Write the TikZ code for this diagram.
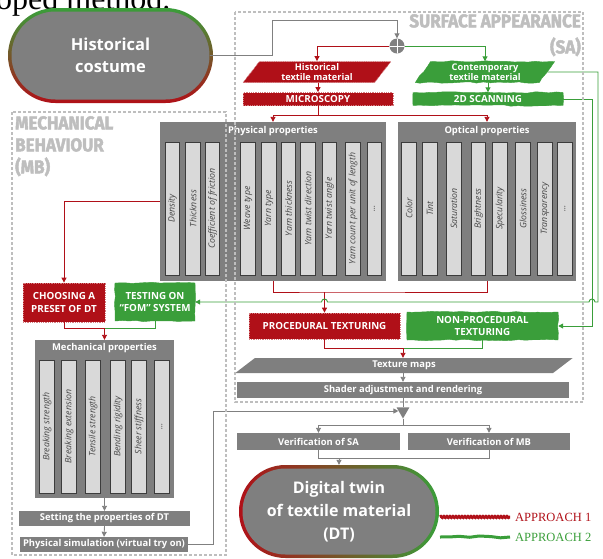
\documentclass[tikz,border=0pt]{standalone}
\usepackage{fontspec}
\setmainfont{Open Sans}
\newfontfamily\titulofont{Fira Sans}[BoldFeatures={FakeBold=2.5}]
\newfontfamily\seriffont{Liberation Serif}
\usepackage{xcolor}
\usetikzlibrary{arrows.meta,shapes.misc,shapes.geometric,decorations.pathmorphing}

\definecolor{cajagris}{RGB}{127,127,127}
\definecolor{colfondo}{RGB}{217,217,217}
\definecolor{colborde}{RGB}{60,60,60}
\definecolor{coltexto}{RGB}{70,70,70}
\definecolor{lineagris}{RGB}{128,128,128}
\definecolor{zonagris}{RGB}{190,190,190}
\definecolor{aprojo}{RGB}{176,16,24}
\definecolor{apverde}{RGB}{58,158,58}

\tikzset{
  caja/.style={fill=cajagris, text=white, inner sep=0pt, align=center,
    font=\bfseries\fontsize{9.4}{11}\selectfont},
  rojo/.style={caja, fill=aprojo, draw=aprojo!55!white, densely dotted, line width=0.8pt},
  verde/.style={caja, fill=apverde, draw=apverde, decorate,
    decoration={random steps, segment length=7pt, amplitude=0.7pt}},
  inclinado/.style={trapezium, trapezium left angle=60, trapezium right angle=120,
    trapezium stretches=true},
  columna/.style={draw=colborde, fill=colfondo, line width=0.8pt, rotate=90,
    minimum width=133pt, minimum height=14.5pt, inner sep=0pt, text=coltexto,
    font=\itshape\fontsize{8.8}{9}\selectfont},
  titulo/.style={text=white, inner sep=0pt, font=\bfseries\fontsize{9.4}{11}\selectfont},
  pildora/.style={rounded rectangle, inner sep=0pt, align=center},
  zona/.style={draw=zonagris, line width=1.2pt, dash pattern=on 3pt off 2pt},
  zonatexto/.style={text=zonagris, inner sep=0pt, xscale=0.92,
    font=\titulofont\bfseries\fontsize{18.5}{22}\selectfont},
  glinea/.style={draw=lineagris, line width=0.9pt},
  rlinea/.style={draw=aprojo, line width=0.9pt},
  vlinea/.style={draw=apverde, line width=0.9pt}
}

\begin{document}
\begin{tikzpicture}[x=1pt, y=-1pt, >={Triangle[length=5pt,width=5pt]}]
  \useasboundingbox (0,0) rectangle (603,558);

  % Texto cortado arriba
  \node[anchor=base west, inner sep=0pt, font=\seriffont\fontsize{32}{32}\selectfont] (cap) at (-4,9) {oped method.};

  % Traje historico
  \node[pildora, minimum width=205pt, minimum height=95pt, top color=apverde, bottom color=aprojo] (histB) at (110.5,55.5) {};
  \node[pildora, fill=cajagris, minimum width=198pt, minimum height=88pt, text=white,
    font=\bfseries\fontsize{16.5}{22}\selectfont] (hist) at (histB) {Historical\\costume};

  % Nodo de union
  \node[circle, fill=lineagris, minimum size=15pt, inner sep=0pt,
    path picture={\draw[white, line width=1pt] (path picture bounding box.north) -- (path picture bounding box.south)
      (path picture bounding box.west) -- (path picture bounding box.east);}] (junc) at (397,46) {};
  \draw[glinea, ->] (hist.east) -| (272,20) -| (junc.north);

  % Material textil
  \node[rojo, inclinado, minimum width=148pt, minimum height=21pt, font=\bfseries\fontsize{9.2}{10.5}\selectfont] (htex) at (317,72) {Historical\\textile material};
  \node[verde, inclinado, minimum width=140pt, minimum height=21pt, font=\bfseries\fontsize{9.2}{10.5}\selectfont] (ctex) at (485,72) {Contemporary\\textile material};
  \draw[rlinea, ->] (junc.west) -| (htex.north);
  \draw[vlinea, ->] (junc.east) -| (ctex.north);

  \node[rojo, minimum width=150pt, minimum height=13pt, font=\bfseries\fontsize{9.8}{11}\selectfont] (micro) at (318,99) {MICROSCOPY};
  \node[verde, minimum width=150pt, minimum height=13pt, font=\bfseries\fontsize{9.8}{11}\selectfont] (scan) at (488,99) {2D SCANNING};
  \draw[rlinea, ->] (htex.south -| micro.north) -- (micro.north);
  \draw[vlinea, ->] (ctex.south -| scan.north) -- (scan.north);

  % Propiedades fisicas
  \node[caja, minimum width=226pt, minimum height=159pt] (phys) at (273,201.5) {};
  \node[titulo, anchor=north] (physT) at ([yshift=-4pt]phys.north) {Physical properties};
  \node[columna] (cDens) at (172.5,208.5) {Density};
  \node[columna] (cThick) at (193,208.5) {Thickness};
  \node[columna] (cFric) at (212.5,208.5) {Coefficient of friction};
  \node[columna] (cWeave) at (248,208.5) {Weave type};
  \node[columna] (cYtype) at (269,208.5) {Yarn type};
  \node[columna] (cYthick) at (288.5,208.5) {Yarn thickness};
  \node[columna] (cYdir) at (308,208.5) {Yarn twist direction};
  \node[columna] (cYang) at (329.5,208.5) {Yarn twist angle};
  \node[columna] (cYcount) at (353,208.5) {Yarn count per unit of length};
  \node[columna] (cPmore) at (374.5,208.5) {...};

  % Propiedades opticas
  \node[caja, minimum width=178pt, minimum height=159pt] (opt) at (487,201.5) {};
  \node[titulo, anchor=north] (optT) at ([yshift=-4pt]opt.north) {Optical properties};
  \node[columna] (cColor) at (409,208.5) {Color};
  \node[columna] (cTint) at (430,208.5) {Tint};
  \node[columna] (cSat) at (454,208.5) {Saturation};
  \node[columna] (cBright) at (478.5,208.5) {Brightness};
  \node[columna] (cSpec) at (500,208.5) {Specularity};
  \node[columna] (cGloss) at (523,208.5) {Glossiness};
  \node[columna] (cTransp) at (545,208.5) {Transparency};
  \node[columna] (cOmore) at (565,208.5) {...};

  \coordinate (rsplit) at (318,115);
  \draw[rlinea] (micro.south) -- (rsplit);
  \draw[rlinea, ->] (rsplit) -| (phys.north);
  \draw[rlinea, ->] (rsplit) -| (opt.north);

  % Texturizado
  \node[rojo, minimum width=151pt, minimum height=26pt, font=\bfseries\fontsize{9.8}{11}\selectfont] (proc) at (324.5,326) {PROCEDURAL TEXTURING};
  \node[verde, minimum width=151pt, minimum height=28pt, font=\bfseries\fontsize{9.8}{12}\selectfont] (nonp) at (482.5,326) {NON-PROCEDURAL\\TEXTURING};
  \coordinate (rjoin) at (324.5,292);
  \draw[rlinea] (phys.south) |- (rjoin) -| (opt.south);
  \draw[rlinea, ->] (rjoin) -- (proc.north);

  % Enfoque DT
  \node[rojo, minimum width=82pt, minimum height=39pt, font=\bfseries\fontsize{9.8}{12.5}\selectfont] (choose) at (64,302.5) {CHOOSING A\\PRESET OF DT};
  \node[verde, minimum width=80pt, minimum height=38pt, font=\bfseries\fontsize{9.8}{12.5}\selectfont] (testf) at (155,302) {TESTING ON\\``FOM'' SYSTEM};
  \draw[rlinea, ->] (phys.west) -| (choose.north);
  \draw[vlinea, ->] (ctex.east) -- (598,72) -- (598,302) -- (595,302)
    arc[start angle=0, end angle=180, radius=3pt] -- (327.5,302)
    arc[start angle=0, end angle=180, radius=3pt] -- (testf.east);
  \draw[vlinea, ->] (scan.east) -- (592,99) |- (nonp.east);

  % Propiedades mecanicas
  \node[caja, minimum width=139pt, minimum height=158pt] (mech) at (104.5,419) {};
  \node[titulo, anchor=north] (mechT) at ([yshift=-3pt]mech.north) {Mechanical properties};
  \node[columna] (cBstr) at (47,426.5) {Breaking strength};
  \node[columna] (cBext) at (69,426.5) {Breaking extension};
  \node[columna] (cTens) at (93,426.5) {Tensile strength};
  \node[columna] (cBend) at (118,426.5) {Bending rigidity};
  \node[columna] (cShear) at (139,426.5) {Sheer stiffness};
  \node[columna] (cMmore) at (162,426.5) {...};
  \coordinate (mjoin) at (104.5,328);
  \draw[rlinea] (choose.south) |- (mjoin);
  \draw[vlinea] (testf.south) |- (mjoin);
  \draw[rlinea, ->] (mjoin) -- (mech.north);

  \node[caja, minimum width=171pt, minimum height=15pt] (setp) at (104.5,518.5) {Setting the properties of DT};
  \node[caja, minimum width=168pt, minimum height=15pt] (physim) at (104,544.5) {Physical simulation (virtual try on)};
  \draw[glinea, ->] (mech.south) -- (setp.north);
  \draw[glinea, ->] (setp.south) -- (physim.north);

  % Mapas y render
  \coordinate (tjoin) at (403,348);
  \draw[rlinea] (proc.south) |- (tjoin);
  \draw[vlinea] (nonp.south) |- (tjoin);
  \node[caja, inclinado, trapezium left angle=65, trapezium right angle=115, minimum width=338pt, minimum height=15pt] (tmap) at (404,365.5) {Texture maps};
  \draw[rlinea, ->] (tjoin) -- (tmap.north -| tjoin);
  \node[caja, minimum width=332pt, minimum height=16pt] (shader) at (403,390) {Shader adjustment and rendering};
  \draw[glinea, ->] (tmap.south -| shader.north) -- (shader.north);

  % Verificacion
  \node[regular polygon, regular polygon sides=3, shape border rotate=180, fill=lineagris, minimum size=15pt, inner sep=0pt] (merge) at (403,411) {};
  \draw[glinea] (shader.south) -- (merge.north);
  \draw[glinea, ->] (physim.east) -- ++(25,0) |- (merge.west);
  \node[caja, minimum width=163pt, minimum height=17pt] (verSA) at (318.5,441.5) {Verification of SA};
  \node[caja, minimum width=162pt, minimum height=17pt] (verMB) at (489,441.5) {Verification of MB};
  \coordinate (vsplit) at (403,425);
  \draw[glinea] (merge.south) -- (vsplit);
  \draw[glinea, ->] (vsplit) -| (verSA.north);
  \draw[glinea, ->] (vsplit) -| (verMB.north);

  % Gemelo digital
  \node[pildora, minimum width=200pt, minimum height=93pt, left color=aprojo, right color=apverde] (dtB) at (339,511.5) {};
  \node[pildora, fill=cajagris, minimum width=193pt, minimum height=86pt, text=white,
    font=\bfseries\fontsize{16}{23}\selectfont] (dt) at (dtB) {Digital twin\\of textile material\\(DT)};
  \coordinate (djoin) at (339,458);
  \draw[glinea] (verSA.south) |- (djoin);
  \draw[glinea] (verMB.south) |- (djoin);
  \draw[glinea, ->] (djoin) -- (dtB.north);

  % Leyenda
  \coordinate (l1a) at (440,517);
  \coordinate (l1b) at (510,517);
  \coordinate (l2a) at (440,537);
  \coordinate (l2b) at (510,537);
  \draw[aprojo, line width=3pt, decorate, decoration={snake, segment length=3pt, amplitude=0.6pt}] (l1a) -- (l1b);
  \draw[apverde, line width=3pt, decorate, decoration={random steps, segment length=10pt, amplitude=1.2pt}] (l2a) -- (l2b);
  \node[anchor=west, inner sep=0pt, text=aprojo, font=\seriffont\fontsize{12.5}{14}\selectfont] (ap1) at ([xshift=5pt]l1b) {APPROACH 1};
  \node[anchor=west, inner sep=0pt, text=apverde, font=\seriffont\fontsize{12.5}{14}\selectfont] (ap2) at ([xshift=5pt]l2b) {APPROACH 2};

  % Zonas
  \draw[zona] (235,12) rectangle (583,402);
  \draw[zona] (12,112) rectangle (226,555);
  \node[zonatexto, anchor=north east, align=right] (saT) at (581,14) {SURFACE APPEARANCE\\[4pt](SA)};
  \node[zonatexto, anchor=north west, align=left] (mbT) at (15,116) {MECHANICAL\\BEHAVIOUR\\(MB)};
\end{tikzpicture}
\end{document}
